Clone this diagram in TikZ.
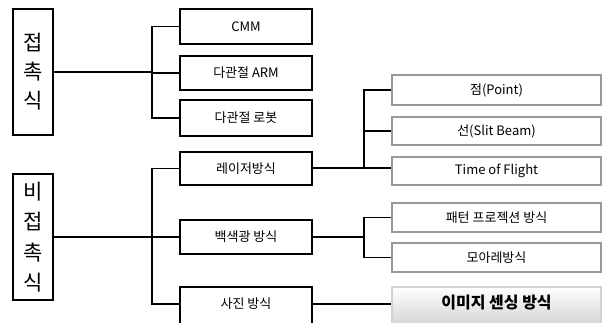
\documentclass[tikz,border=0pt]{standalone}
\usepackage{fontspec}
\setmainfont{Noto Sans CJK KR}
\begin{document}
\begin{tikzpicture}[x=1pt,y=-1pt,
  bigbox/.style={draw=black,line width=1.8pt,fill=white,inner sep=0pt},
  midbox/.style={draw=black,line width=1.8pt,fill=white,inner sep=0pt,minimum width=132pt,font=\fontsize{13}{15}\selectfont},
  rbox/.style={draw=gray!80,line width=1.6pt,fill=white,inner sep=0pt,minimum width=209pt,font=\fontsize{13}{15}\selectfont},
  conn/.style={line width=1.8pt}]
\useasboundingbox (0,0) rectangle (602,322);
\clip (0,0) rectangle (602,322);
% left boxes
\node[bigbox,minimum width=40pt,minimum height=126pt,align=center,font=\fontsize{21}{29}\selectfont] (L1) at (33,72) {접\\촉\\식};
\node[bigbox,minimum width=40pt,minimum height=126pt,align=center,font=\fontsize{21}{30.5}\selectfont] (L2) at (33,237) {비\\접\\촉\\식};
% middle boxes
\node[midbox,minimum height=35pt] (cmm) at (246,26.5) {CMM};
\node[midbox,minimum height=34pt] (arm) at (246,73) {다관절 ARM};
\node[midbox,minimum height=36pt] (rob) at (246,118) {다관절 로봇};
\node[midbox,minimum height=33pt] (las) at (246,168.5) {레이저방식};
\node[midbox,minimum height=34pt] (wl) at (246,237) {백색광 방식};
\node[midbox,minimum height=40pt] (ph) at (246,307) {};
\node[font=\fontsize{13}{15}\selectfont] (phl) at (246,304) {사진 방식};
% right boxes
\node[rbox,minimum height=30pt] (pt) at (496.5,90) {점(Point)};
\node[rbox,minimum height=28pt] (sl) at (496.5,131) {선(Slit Beam)};
\node[rbox,minimum height=28pt] (tof) at (496.5,171) {Time of Flight};
\node[rbox,minimum height=29pt] (pat) at (496.5,217.5) {패턴 프로젝션 방식};
\node[rbox,minimum height=29pt] (moi) at (496.5,257.5) {모아레방식};
\node[draw=gray!35,line width=1.2pt,top color=white,bottom color=gray!35,inner sep=0pt,minimum width=209pt,minimum height=40pt] (img) at (496.5,307) {};
\node[font=\bfseries\fontsize{16}{18}\selectfont] (imgl) at (496.5,303) {이미지 센싱 방식};
% connectors: contact
\coordinate (j1) at (152,72);
\draw[conn] (L1.east) -- (j1);
\draw[conn] (cmm.west) -| (j1);
\draw[conn] (rob.west) -| (j1);
\draw[conn] (arm.west) -- (arm.west -| j1);
% non-contact
\coordinate (j2) at (152,237);
\coordinate (p2) at (152,304);
\draw[conn] (L2.east) -- (j2);
\draw[conn] (las.west) -| (j2);
\draw[conn] (wl.west) -- (j2);
\draw[conn] (j2) -- (p2) -- (p2 -| ph.west);
% laser
\coordinate (j3) at (364,168);
\draw[conn] (las.east |- j3) -- (j3);
\draw[conn] (pt.west) -| (j3);
\draw[conn] (sl.west) -- (sl.west -| j3);
\draw[conn] (j3) -- (j3 -| tof.west);
% white light
\coordinate (j4) at (364,237);
\draw[conn] (wl.east) -- (j4);
\draw[conn] (pat.west) -| (j4);
\draw[conn] (moi.west) -| (j4);
% photo
\coordinate (p3) at (313,304);
\draw[conn] (p3) -- (p3 -| img.west);
\end{tikzpicture}
\end{document}
